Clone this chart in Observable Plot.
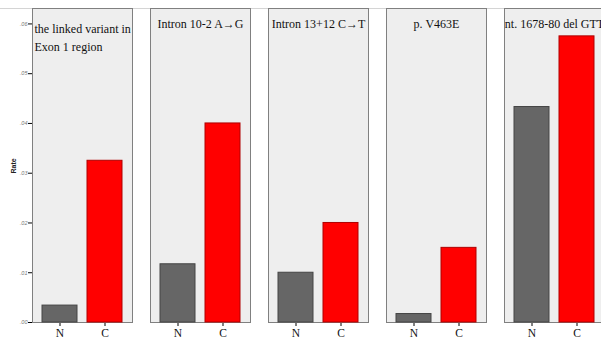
<!DOCTYPE html>
<html>
<head>
<meta charset="utf-8">
<script src="https://cdn.jsdelivr.net/npm/d3@7"></script>
<script src="https://cdn.jsdelivr.net/npm/@observablehq/plot@0.6"></script>
<style>
  html, body { margin: 0; padding: 0; overflow: hidden; background: #fff; }
  #wrap { position: relative; width: 601px; height: 341px; overflow: hidden; }
  #topline { position: absolute; left: 0; top: 8px; width: 601px; height: 0; border-top: 1px solid #d4d4d4; }
  #chart { position: absolute; left: 0; top: 0; }
  #chart svg [aria-label^="y-axis"] text { font-family: "Liberation Sans", Arial, sans-serif; font-size: 5.5px; fill: #777; font-style: italic; }
  #chart svg [aria-label^="x-axis"] text { font-family: "Liberation Serif", "Times New Roman", serif; font-size: 11.5px; fill: #111; }
</style>
</head>
<body>
<div id="wrap"><div id="topline"></div><div id="chart"></div></div>
<script>
const variants = ["the linked variant in\nExon 1 region", "Intron 10-2 A→G", "Intron 13+12 C→T", "p. V463E", "nt. 1678-80 del GTT"];
const groups = ["N", "C"];
const rateN = [0.0034, 0.0117, 0.0100, 0.0017, 0.0433];
const rateC = [0.0325, 0.0400, 0.0200, 0.0150, 0.0575];
const yTicks = [0, 0.01, 0.02, 0.03, 0.04, 0.05, 0.06];
const yTitle = "Rate";
const groupFill = {N: "#666666", C: "#ff0000"};
const groupStroke = {N: "#444444", C: "#b00000"};

const rows = [];
variants.forEach((v, i) => {
  rows.push({variant: v, group: "N", rate: rateN[i]});
  rows.push({variant: v, group: "C", rate: rateC[i]});
});

const chart = Plot.plot({
  width: 620,
  height: 341,
  marginTop: 8,
  marginBottom: 19,
  marginLeft: 31,
  marginRight: 15,
  style: {maxWidth: "none", background: "transparent", fontFamily: "Liberation Serif, serif"},
  facet: {data: rows, x: "variant"},
  fx: {domain: variants, paddingInner: 0.156, paddingOuter: 0, axis: null, label: null},
  x: {domain: groups, paddingInner: 0.23, paddingOuter: 0.22, tickSize: 4, label: null, tickPadding: 2},
  y: {domain: [0, 0.0631], ticks: yTicks, tickFormat: d => d3.format(".2f")(d).replace(/^0/, ""), tickSize: 4, tickPadding: 1, label: null},
  marks: [
    Plot.frame({fill: "#eeeeee", stroke: "#808080", strokeWidth: 1}),
    Plot.barY(rows, {x: "group", y: "rate", fill: d => groupFill[d.group], stroke: d => groupStroke[d.group], strokeWidth: 1}),
    Plot.text(rows, {filter: d => d.group === "N" && d.variant === variants[0], text: "variant", frameAnchor: "top-left", textAnchor: "start", lineAnchor: "top", dx: 2, dy: 11, fontSize: 12, lineHeight: 1.55, fontFamily: "Liberation Serif, serif", fill: "#111"}),
    Plot.text(rows, {filter: d => d.group === "N" && d.variant !== variants[0], text: "variant", frameAnchor: "top", textAnchor: "middle", lineAnchor: "top", dy: 11, fontSize: 12, fontFamily: "Liberation Serif, serif", fill: "#111"}),
    Plot.text(rows, {filter: d => d.group === "N" && d.variant === variants[0], text: () => yTitle, frameAnchor: "left", rotate: -90, dx: -19, dy: 8, fontSize: 7, fontWeight: "bold", fontFamily: "Liberation Sans, Arial, sans-serif", fill: "#222"})
  ]
});
document.getElementById("chart").appendChild(chart);
</script>
</body>
</html>
